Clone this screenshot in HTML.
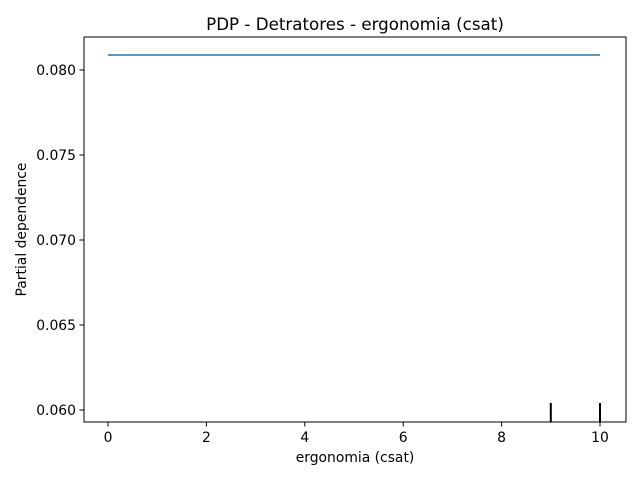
<!DOCTYPE html>
<html><head><meta charset="utf-8"><style>
body{margin:0;background:#fff}
text{font-family:"DejaVu Sans","Liberation Sans",sans-serif;fill:#000}
</style></head><body>
<svg id="c" width="640" height="480"></svg>
<script>
const xTicks=[0,2,4,6,8,10];
const yTicks=[0.060,0.065,0.070,0.075,0.080];
const yTickLabels=["0.060","0.065","0.070","0.075","0.080"];
const lineX=[0,10];
const lineY=[0.08088,0.08088];
const rugX=[9,10];
const L=84,R=626,T=37,B=422;
const xs=v=>108+(v-0)*(600-108)/10;
const ys=v=>410-(v-0.060)*(410-70)/0.020;
const svg=document.getElementById('c');
const NS='http://www.w3.org/2000/svg';
function mk(t,a,txt){const e=document.createElementNS(NS,t);for(const k in a)e.setAttribute(k,a[k]);if(txt!=null)e.textContent=txt;svg.appendChild(e);return e;}
let e=mk('rect',{x:L,y:T,width:R-L,height:B-T,fill:'none',stroke:'#000','stroke-width':1});


let d=lineX.map((x,i)=>(i?'L':'M')+xs(x)+','+ys(lineY[i])).join('');
e=mk('path',{d:d,stroke:'#1f77b4','stroke-width':1.5,fill:'none'});


rugX.forEach(x=>{
 e=mk('line',{x1:xs(x),x2:xs(x),y1:B,y2:B-19,stroke:'#000','stroke-width':2});
 
 
});
xTicks.forEach(v=>{
 e=mk('line',{x1:xs(v),x2:xs(v),y1:B,y2:B+4.5,stroke:'#000'});
 
 
 e=mk('text',{x:xs(v),y:B+20,'font-size':13.9,'text-anchor':'middle'},String(v));
 
 
});
yTicks.forEach((v,i)=>{
 e=mk('line',{x1:L,x2:L-4.5,y1:ys(v),y2:ys(v),stroke:'#000'});
 
 
 e=mk('text',{x:L-8,y:ys(v)+5,'font-size':13.9,'text-anchor':'end'},yTickLabels[i]);
 
 
});
e=mk('text',{x:(L+R)/2,y:462,'font-size':13.9,'text-anchor':'middle'},'ergonomia (csat)');


e=mk('text',{x:26,y:(T+B)/2,'font-size':13.9,'text-anchor':'middle',transform:'rotate(-90 26 '+((T+B)/2)+')'},'Partial dependence');


e=mk('text',{x:(L+R)/2,y:30,'font-size':16.7,'text-anchor':'middle'},'PDP - Detratores - ergonomia (csat)');


</script>
</body></html>
